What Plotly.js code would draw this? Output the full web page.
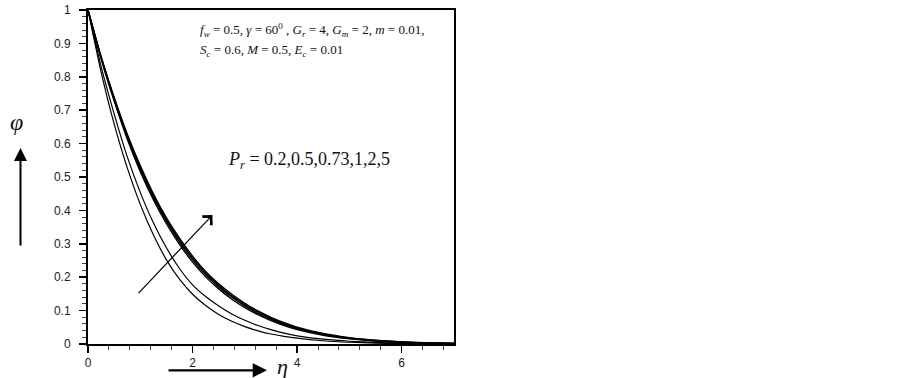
<!DOCTYPE html>
<html>
<head>
<meta charset="utf-8">
<script src="https://cdn.plot.ly/plotly-3.0.1.min.js"></script>
<style>html,body{margin:0;padding:0;background:#fff;}#chart{width:903px;height:378px;}</style>
</head>
<body>
<div id="chart"></div>
<script>
// eta grid
const eta = [0, 0.25, 0.5, 0.75, 1.0, 1.25, 1.5, 1.75, 2.0, 2.25, 2.5, 2.75, 3.0, 3.25, 3.5, 3.75, 4.0, 4.5, 5.0, 5.5, 6.0, 6.5, 7.0];
// concentration profiles phi(eta) for Pr = 0.2, 0.5, 0.73, 1, 2, 5
const phi_Pr02  = [1, 0.815, 0.659, 0.528, 0.418, 0.327, 0.252, 0.194, 0.149, 0.115, 0.0885, 0.068, 0.052, 0.0395, 0.030, 0.023, 0.0174, 0.0097, 0.0052, 0.0028, 0.0014, 0.0007, 0.0004];
const phi_Pr05  = [1, 0.831, 0.689, 0.561, 0.454, 0.363, 0.288, 0.226, 0.177, 0.142, 0.114, 0.090, 0.071, 0.0554, 0.0429, 0.0324, 0.0242, 0.0143, 0.0082, 0.0046, 0.0025, 0.0013, 0.0006];
const phi_Pr073 = [1, 0.854, 0.728, 0.614, 0.516, 0.432, 0.360, 0.298, 0.245, 0.201, 0.165, 0.134, 0.109, 0.088, 0.070, 0.0553, 0.0433, 0.0261, 0.0154, 0.0088, 0.0049, 0.0027, 0.0014];
const phi_Pr1   = [1, 0.857, 0.732, 0.620, 0.523, 0.439, 0.367, 0.305, 0.252, 0.207, 0.171, 0.140, 0.114, 0.092, 0.074, 0.0586, 0.0461, 0.0281, 0.0167, 0.0097, 0.0055, 0.0030, 0.0016];
const phi_Pr2   = [1, 0.859, 0.736, 0.625, 0.528, 0.445, 0.373, 0.311, 0.258, 0.212, 0.175, 0.144, 0.118, 0.096, 0.077, 0.0612, 0.0483, 0.0297, 0.0178, 0.0104, 0.0060, 0.0033, 0.0018];
const phi_Pr5   = [1, 0.861, 0.739, 0.629, 0.534, 0.450, 0.378, 0.317, 0.263, 0.217, 0.180, 0.149, 0.122, 0.099, 0.080, 0.0639, 0.0506, 0.0313, 0.0189, 0.0112, 0.0064, 0.0036, 0.0020];
const seriesNames = ['Pr=0.2', 'Pr=0.5', 'Pr=0.73', 'Pr=1', 'Pr=2', 'Pr=5'];
const seriesData = [phi_Pr02, phi_Pr05, phi_Pr073, phi_Pr1, phi_Pr2, phi_Pr5];
const lineWidths = [1.2, 1.2, 1.4, 1.4, 1.4, 1.4];

const xTicks = [0, 2, 4, 6];
const xTickText = ['0', '2', '4', '6'];
const yTicks = [0, 0.1, 0.2, 0.3, 0.4, 0.5, 0.6, 0.7, 0.8, 0.9, 1];
const yTickText = ['0', '0.1', '0.2', '0.3', '0.4', '0.5', '0.6', '0.7', '0.8', '0.9', '1'];

const traces = seriesData.map((d, i) => ({
  x: eta, y: d, type: 'scatter', mode: 'lines', name: seriesNames[i],
  line: {color: '#000', width: lineWidths[i], shape: 'spline', smoothing: 0.6},
  hoverinfo: 'skip'
}));

const serif = 'Liberation Serif, Times New Roman, serif';
const sans = 'Liberation Sans, Arial, sans-serif';

const layout = {
  width: 903, height: 378,
  margin: {l: 88, r: 449, t: 10, b: 34, pad: 0},
  paper_bgcolor: '#fff', plot_bgcolor: '#fff',
  showlegend: false,
  font: {family: sans, size: 12, color: '#222'},
  xaxis: {
    range: [0, 7], tickmode: 'array', tickvals: xTicks, ticktext: xTickText,
    ticks: 'outside', ticklen: 7, tickwidth: 1.5, tickcolor: '#000',
    minor: {dtick: 0.4, tick0: 0, ticks: 'outside', ticklen: 4, tickwidth: 1, tickcolor: '#444'},
    showline: true, linecolor: '#000', linewidth: 2, mirror: true,
    showgrid: false, zeroline: false,
    tickfont: {family: sans, size: 12, color: '#222'}
  },
  yaxis: {
    range: [0, 1], tickmode: 'array', tickvals: yTicks, ticktext: yTickText,
    ticks: 'outside', ticklen: 7, tickwidth: 1.5, tickcolor: '#000',
    minor: {dtick: 0.02, tick0: 0, ticks: 'outside', ticklen: 4, tickwidth: 1, tickcolor: '#444'},
    showline: true, linecolor: '#000', linewidth: 2, mirror: true,
    showgrid: false, zeroline: false, ticklabelstandoff: 6,
    tickfont: {family: sans, size: 12, color: '#222'}
  },
  annotations: [
    {xref: 'paper', yref: 'paper', x: (198 - 88) / 366, y: 0.940, xanchor: 'left', yanchor: 'middle', showarrow: false,
     text: '<i>f</i><sub><i>w</i></sub> = 0.5, <i>γ</i> = 60<sup>0</sup> , <i>G</i><sub><i>r</i></sub> = 4, <i>G</i><sub><i>m</i></sub> = 2, <i>m</i> = 0.01,',
     font: {family: serif, size: 13, color: '#111'}},
    {xref: 'paper', yref: 'paper', x: (198 - 88) / 366, y: 0.880, xanchor: 'left', yanchor: 'middle', showarrow: false,
     text: '<i>S</i><sub><i>c</i></sub> = 0.6, <i>M</i> = 0.5, <i>E</i><sub><i>c</i></sub> = 0.01',
     font: {family: serif, size: 13, color: '#111'}},
    {xref: 'paper', yref: 'paper', x: (226 - 88) / 366, y: (343.7 - 160) / 333.7, xanchor: 'left', yanchor: 'middle', showarrow: false,
     text: '<i>P</i><sub><i>r</i></sub> = 0.2,0.5,0.73,1,2,5',
     font: {family: serif, size: 18, color: '#111'}},
    // arrow inside plot
    {xref: 'x', yref: 'y', axref: 'x', ayref: 'y', x: 2.38, y: 0.386, ax: 0.94, ay: 0.148,
     showarrow: true, arrowhead: 4, arrowsize: 2, arrowwidth: 1.2, arrowcolor: '#000', text: ''},
    // eta axis title and arrow
    {xref: 'paper', yref: 'paper', x: (282 - 88) / 366, y: (343.7 - 366) / 333.7, xanchor: 'center', yanchor: 'middle',
     showarrow: false, text: '<i>η</i>', font: {family: serif, size: 22, color: '#111'}},
    {xref: 'paper', yref: 'paper', axref: 'pixel', ayref: 'pixel', x: (267 - 88) / 366, y: (343.7 - 370) / 333.7,
     ax: -100, ay: 0, showarrow: true, arrowhead: 2, arrowsize: 1.3, arrowwidth: 2.2, arrowcolor: '#000', text: ''},
    // phi axis title and arrow
    {xref: 'paper', yref: 'paper', x: (16 - 88) / 366, y: (343.7 - 122) / 333.7, xanchor: 'center', yanchor: 'middle',
     showarrow: false, text: '<i>φ</i>', font: {family: serif, size: 24, color: '#111'}},
    {xref: 'paper', yref: 'paper', axref: 'pixel', ayref: 'pixel', x: (20.5 - 88) / 366, y: (343.7 - 148) / 333.7,
     ax: 0, ay: 99, showarrow: true, arrowhead: 2, arrowsize: 1.3, arrowwidth: 2, arrowcolor: '#000', text: ''}
  ]
};

Plotly.newPlot('chart', traces, layout, {staticPlot: true, displayModeBar: false});
</script>
</body>
</html>
